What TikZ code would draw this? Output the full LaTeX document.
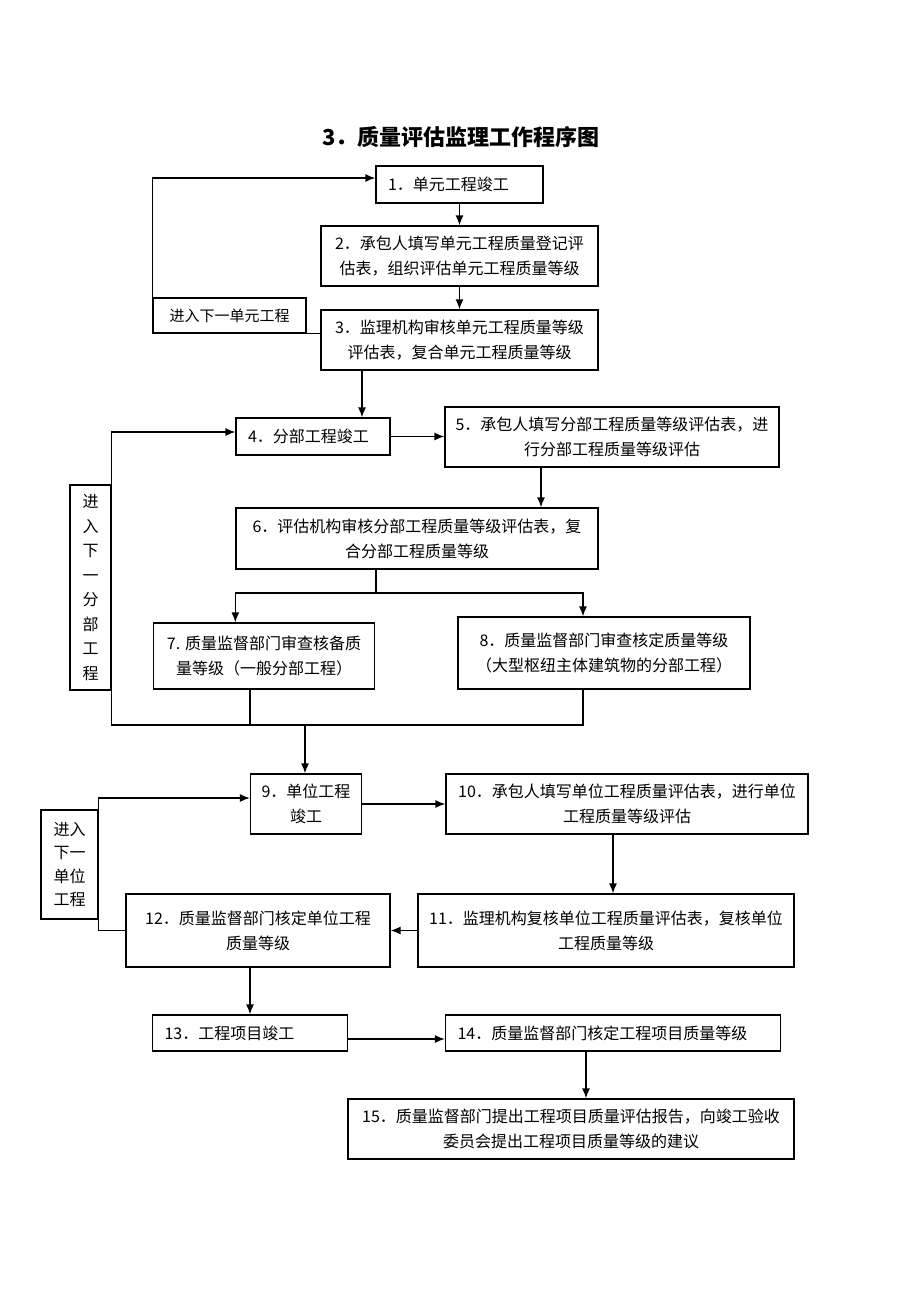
\documentclass[tikz,border=0pt]{standalone}
\usepackage{fontspec}
\setmainfont{Noto Sans CJK SC}
\usetikzlibrary{arrows.meta}
\begin{document}
\begin{tikzpicture}[x=1pt,y=-1pt,>={Latex[length=10pt,width=8pt]},line width=1.3pt,font=\fontsize{16}{25}\selectfont]
	\tikzset{box/.style={draw,rectangle,align=center,inner sep=0pt}}
	\tikzset{lbox/.style={draw,rectangle,align=left,inner xsep=12pt,inner ysep=0pt}}
	\useasboundingbox (0,0) rectangle (920,1302);
	\node[font=\fontsize{22}{26}\selectfont\bfseries] (title) at (461,137) {3．质量评估监理工作程序图};
	\node[lbox,text width=143pt,minimum height=37pt] (b1) at (459.5,184.5) {1．单元工程竣工};
	\node[box,minimum width=277pt,minimum height=60pt] (b2) at (459.5,256) {2．承包人填写单元工程质量登记评\\估表，组织评估单元工程质量等级};
	\node[box,minimum width=277pt,minimum height=60pt] (b3) at (459.5,340) {3．监理机构审核单元工程质量等级\\评估表，复合单元工程质量等级};
	\node[box,minimum width=153pt,minimum height=35pt,font=\fontsize{15}{20}\selectfont] (l1) at (229.5,315.5) {进入下一单元工程};
	\node[lbox,text width=130pt,minimum height=37pt] (b4) at (313,436.5) {4．分部工程竣工};
	\node[box,minimum width=334pt,minimum height=60pt] (b5) at (612,437) {5．承包人填写分部工程质量等级评估表，进\\行分部工程质量等级评估};
	\node[box,minimum width=362pt,minimum height=61pt] (b6) at (417,538.5) {6．评估机构审核分部工程质量等级评估表，复\\合分部工程质量等级};
	\node[box,minimum width=221pt,minimum height=66pt] (b7) at (264,656) {7. 质量监督部门审查核备质\\量等级（一般分部工程）};
	\node[box,minimum width=292pt,minimum height=72pt] (b8) at (604,653) {8．质量监督部门审查核定质量等级\\（大型枢纽主体建筑物的分部工程）};
	\node[box,minimum width=41pt,minimum height=205pt,font=\fontsize{16}{24.5}\selectfont] (l2) at (90.5,587.5) {进\\入\\下\\一\\分\\部\\工\\程};
	\node[box,minimum width=111pt,minimum height=60pt] (b9) at (306,804) {9．单位工程\\竣工};
	\node[box,minimum width=362pt,minimum height=60pt] (b10) at (627,804) {10．承包人填写单位工程质量评估表，进行单位\\工程质量等级评估};
	\node[box,minimum width=57pt,minimum height=109pt,font=\fontsize{16}{23.5}\selectfont] (l3) at (69.5,864.5) {进入\\下一\\单位\\工程};
	\node[box,minimum width=376pt,minimum height=73pt] (b11) at (606,930.5) {11．监理机构复核单位工程质量评估表，复核单位\\工程质量等级};
	\node[box,minimum width=264pt,minimum height=73pt] (b12) at (258,930.5) {12．质量监督部门核定单位工程\\质量等级};
	\node[lbox,text width=171pt,minimum height=36pt] (b13) at (250,1033) {13．工程项目竣工};
	\node[lbox,text width=311pt,minimum height=36pt] (b14) at (613,1033) {14．质量监督部门核定工程项目质量等级};
	\node[box,minimum width=446pt,minimum height=60pt] (b15) at (571,1129) {15．质量监督部门提出工程项目质量评估报告，向竣工验收\\委员会提出工程项目质量等级的建议};
	\coordinate (s1) at (376,593);
	\coordinate (m) at (305,725);
	\draw[->] (b1) -- (b2);
	\draw[->] (b2) -- (b3);
	\draw[->] (b3.west |- l1.south) -- (l1.south west) |- ([yshift=6.5pt]b1.west);
	\draw[->] ([xshift=-97.5pt]b3.south) -- ([xshift=-97.5pt]b3.south |- b4.north);
	\draw[->] (b4.east) -- (b4.east -| b5.west);
	\draw[->] ([xshift=-71pt]b5.south) -- ([xshift=-71pt]b5.south |- b6.north);
	\draw (s1 |- b6.south) -- (s1);
	\draw[->] (s1) -| (b6.west |- b7.north);
	\draw[->] (s1) -| ([xshift=-21pt]b8.north);
	\draw ([xshift=-14pt]b7.south) -- ([xshift=-14pt]b7.south |- m);
	\draw[->] ([xshift=-21pt]b8.south) |- (m -| l2.east) |- ([yshift=4.5pt]b4.west);
	\draw[->] (m) -- (m |- b9.north);
	\draw[->] (b9) -- (b10);
	\draw[->] (b12.west) -- (b12.west -| l3.east) |- ([yshift=6pt]b9.west);
	\draw[->] ([xshift=-14pt]b10.south) -- ([xshift=-14pt]b10.south |- b11.north);
	\draw[->] (b11) -- (b12);
	\draw[->] (b13.north |- b12.south) -- (b13.north);
	\draw[->] ([yshift=-6pt]b13.east) -- ([yshift=-6pt]b13.east -| b14.west);
	\draw[->] ([xshift=-27pt]b14.south) -- ([xshift=-27pt]b14.south |- b15.north);
\end{tikzpicture}
\end{document}
